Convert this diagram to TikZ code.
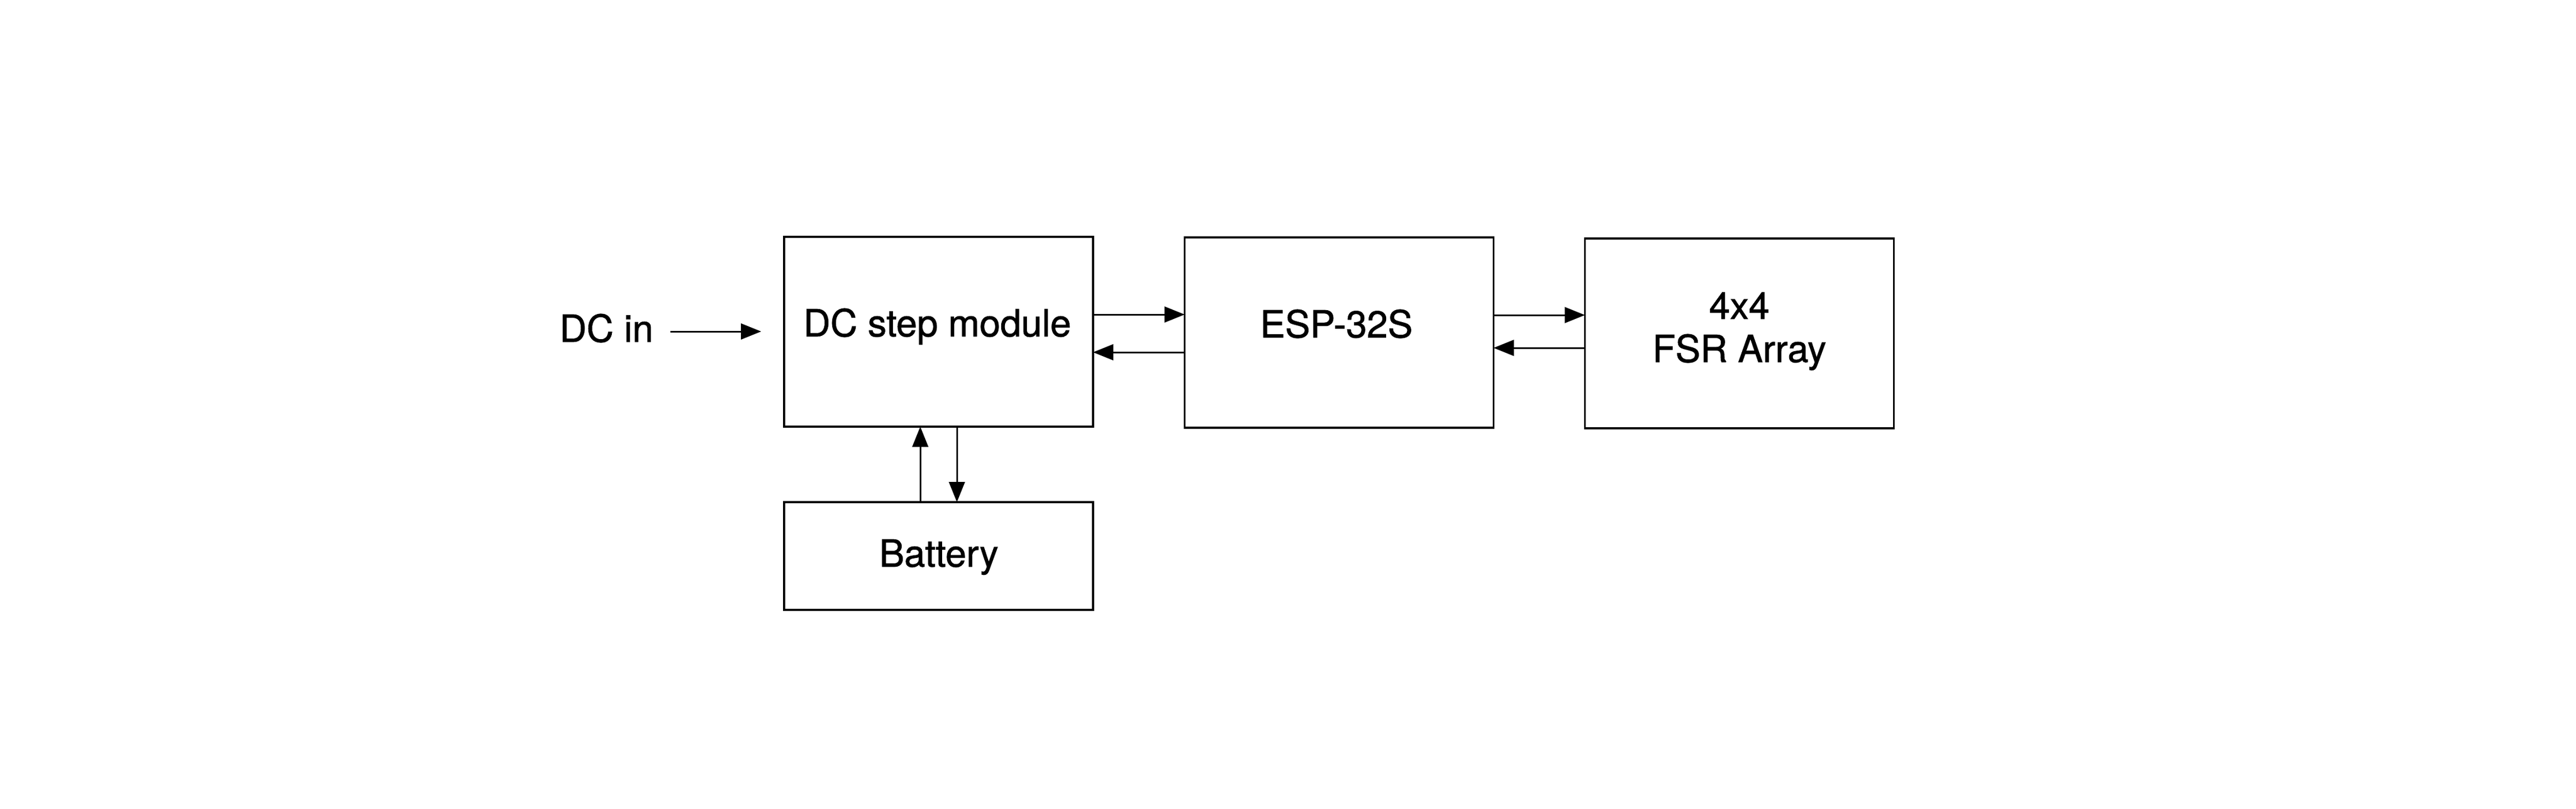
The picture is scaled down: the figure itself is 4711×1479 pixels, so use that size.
\documentclass[tikz,border=0pt]{standalone}
\usepackage{fontspec}
\setmainfont{TeX Gyre Heros}[FakeBold=1.2]
\usetikzlibrary{arrows.meta}
\begin{document}
\begin{tikzpicture}[x=0.2pt,y=-0.2pt,
  box/.style={draw, line width=0.75pt, inner sep=0pt, outer sep=0pt, minimum width=113pt},
  lbl/.style={anchor=base, inner sep=0pt, font=\fontsize{13.7}{15.8}\selectfont},
  arr/.style={line width=0.6pt, -{Triangle[length=7.4pt,width=5.8pt]}}]
\useasboundingbox (0,0) rectangle (4711,1479);
% boxes
\node[box, minimum height=69.4pt] (dc)  at (1716.5,606.5) {};
\node[box, minimum height=69.6pt] (esp) at (2449,608) {};
\node[box, minimum height=69.4pt] (fsr) at (3181,609.5) {};
\node[box, minimum height=39.4pt] (bat) at (1716.5,1016.5) {};
% labels
\node[lbl] (tdc)  at (1714,615) {DC step module};
\node[lbl] (tesp) at (2444,617) {ESP-32S};
\node[lbl] (t44)  at (3181,583) {4x4};
\node[lbl] (tfsr) at (3181,662) {FSR Array};
\node[lbl] (tbat) at (1717,1036) {Battery};
\node[lbl] (dcin) at (1109,625) {DC in};
% helper coordinates
\coordinate (inS) at (1226,606);
\coordinate (inE) at (1392,606);
\coordinate (ya) at (0,575);
\coordinate (yb) at (0,644);
\coordinate (yc) at (0,576);
\coordinate (yd) at (0,636);
\coordinate (xa) at (1683,0);
\coordinate (xb) at (1750,0);
% connectors
\draw[arr] (inS) -- (inE);
\draw[arr] (dc.east |- ya) -- (esp.west |- ya);
\draw[arr] (esp.west |- yb) -- (dc.east |- yb);
\draw[arr] (esp.east |- yc) -- (fsr.west |- yc);
\draw[arr] (fsr.west |- yd) -- (esp.east |- yd);
\draw[arr] (bat.north -| xa) -- (dc.south -| xa);
\draw[arr] (dc.south -| xb) -- (bat.north -| xb);
\end{tikzpicture}
\end{document}
